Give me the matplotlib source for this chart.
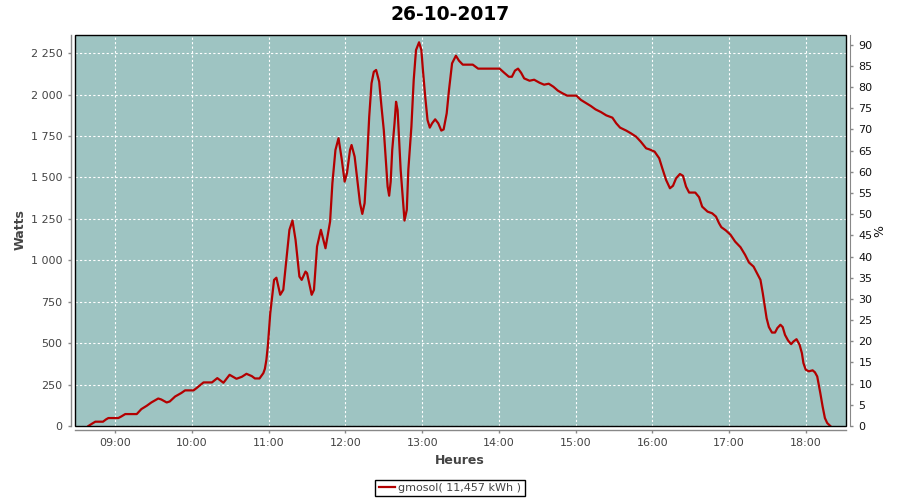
import matplotlib
matplotlib.use('Agg')
import matplotlib.pyplot as plt
from matplotlib.patches import Rectangle
from matplotlib.ticker import FuncFormatter, MultipleLocator

# donnees (heure decimale, puissance en W)
heures = [8.65, 8.70, 8.74, 8.84, 8.88, 8.91, 9.04, 9.08, 9.13, 9.28, 9.34, 9.41,
          9.47, 9.56, 9.60, 9.67, 9.71, 9.78, 9.86, 9.91, 10.02, 10.06, 10.15, 10.26,
          10.33, 10.41, 10.49, 10.58, 10.65, 10.71, 10.78, 10.82, 10.88, 10.93, 10.95,
          10.97, 10.99, 11.02, 11.04, 11.07, 11.10, 11.15, 11.19, 11.23, 11.27, 11.31,
          11.35, 11.40, 11.43, 11.48, 11.50, 11.56, 11.59, 11.63, 11.68, 11.74, 11.80,
          11.83, 11.87, 11.91, 11.95, 11.99, 12.02, 12.06, 12.08, 12.12, 12.15, 12.19,
          12.22, 12.25, 12.28, 12.31, 12.34, 12.37, 12.40, 12.44, 12.47, 12.50, 12.53,
          12.55, 12.57, 12.59, 12.61, 12.64, 12.66, 12.68, 12.70, 12.72, 12.75, 12.77,
          12.80, 12.82, 12.86, 12.89, 12.92, 12.96, 12.99, 13.01, 13.04, 13.07, 13.10,
          13.13, 13.17, 13.21, 13.25, 13.28, 13.32, 13.35, 13.39, 13.44, 13.48, 13.53,
          13.66, 13.73, 14.01, 14.07, 14.13, 14.17, 14.21, 14.25, 14.29, 14.33, 14.40,
          14.46, 14.53, 14.59, 14.65, 14.71, 14.77, 14.83, 14.89, 15.01, 15.07, 15.13,
          15.20, 15.26, 15.33, 15.40, 15.48, 15.53, 15.58, 15.66, 15.72, 15.79, 15.85,
          15.92, 15.96, 16.03, 16.09, 16.13, 16.18, 16.23, 16.27, 16.31, 16.36, 16.40,
          16.44, 16.48, 16.56, 16.61, 16.65, 16.72, 16.78, 16.83, 16.87, 16.90, 16.96,
          17.02, 17.08, 17.15, 17.21, 17.26, 17.32, 17.37, 17.41, 17.44, 17.46, 17.49,
          17.52, 17.56, 17.60, 17.63, 17.67, 17.70, 17.73, 17.77, 17.81, 17.84, 17.88,
          17.92, 17.95, 17.97, 18.00, 18.04, 18.09, 18.12, 18.15, 18.19, 18.22, 18.25,
          18.28, 18.32]
watts = [0, 15, 26, 26, 40, 48, 48, 58, 72, 72, 102, 122,
         142, 166, 160, 142, 148, 178, 199, 215, 215, 229, 263, 263,
         289, 261, 309, 285, 297, 315, 301, 287, 287, 319, 345,
         400, 490, 680, 762, 882, 895, 792, 822, 1003, 1184, 1240,
         1123, 902, 882, 932, 922, 792, 822, 1083, 1184, 1073, 1234,
         1465, 1666, 1737, 1616, 1475, 1526, 1666, 1696, 1626, 1505, 1345,
         1280, 1345, 1586, 1867, 2068, 2138, 2149, 2078, 1927, 1787, 1586,
         1445, 1390, 1475, 1666, 1827, 1957, 1907, 1726, 1546, 1365, 1240,
         1305, 1546, 1807, 2088, 2269, 2316, 2269, 2149, 1988, 1847, 1801,
         1827, 1851, 1827, 1783, 1790, 1887, 2028, 2189, 2235, 2205, 2181,
         2181, 2157, 2157, 2132, 2108, 2108, 2145, 2157, 2132, 2098, 2084,
         2090, 2072, 2060, 2066, 2048, 2024, 2008, 1994, 1994, 1968, 1951,
         1931, 1911, 1895, 1875, 1861, 1827, 1801, 1783, 1767, 1746, 1716,
         1676, 1670, 1656, 1616, 1556, 1485, 1435, 1450, 1495, 1521, 1510,
         1445, 1409, 1409, 1381, 1324, 1294, 1284, 1264, 1224, 1200, 1180,
         1154, 1113, 1079, 1033, 987, 962, 918, 882, 802, 742, 651,
         597, 564, 564, 591, 611, 597, 550, 516, 494, 510, 524,
         490, 440, 380, 340, 330, 336, 324, 299, 199, 118, 48,
         18, 0]

titre = '26-10-2017'
legende = 'gmosol( 11,457 kWh )'
heures_ticks = list(range(9, 19))
heures_labels = ['%02d:00' % h for h in heures_ticks]

fond = '#9ec4c2'
rouge = '#b30000'
gris = '#444444'
gris_axe = '#888888'

plt.rcParams['font.family'] = ['DejaVu Sans']

fig = plt.figure(figsize=(9, 5), dpi=100)
ax = fig.add_axes([75 / 900, 74 / 500, 771 / 900, 391 / 500])
ax.set_facecolor(fond)

ligne, = ax.plot(heures, watts, color=rouge, lw=1.6, label=legende)

ax.set_xlim(8.475, 18.525)
ax.set_ylim(0, 2360)
ax.set_xticks(heures_ticks)
ax.set_xticklabels(heures_labels)
ax.yaxis.set_major_locator(MultipleLocator(250))
ax.yaxis.set_major_formatter(FuncFormatter(lambda v, p: '{:,}'.format(int(v)).replace(',', ' ')))
ax.grid(True, color='white', lw=0.8, linestyle=(0, (2, 2)))

for s in ['left', 'bottom']:
    ax.spines[s].set_position(('outward', 3))
    ax.spines[s].set_color(gris_axe)
    ax.spines[s].set_linewidth(1)
ax.spines['top'].set_visible(False)
ax.spines['right'].set_visible(False)
ax.tick_params(axis='both', colors=gris_axe, labelcolor=gris, labelsize=8, length=2.5, width=1)

ax2 = ax.twinx()
ax2.set_ylim(0, 92.3)
ax2.yaxis.set_major_locator(MultipleLocator(5))
for s in ['left', 'bottom', 'top']:
    ax2.spines[s].set_visible(False)
ax2.spines['right'].set_position(('outward', 3))
ax2.spines['right'].set_color(gris_axe)
ax2.tick_params(axis='y', colors=gris_axe, labelcolor='#111111', labelsize=8, length=2.5, width=1)

# cadre noir du trace
ax2.add_patch(Rectangle((0, 0), 1, 1, transform=ax.transAxes, fill=False,
                        ec='black', lw=1, clip_on=False, zorder=10))

fig.text(0.5, 1 - 15 / 500, titre, ha='center', va='center', fontsize=13.5, fontweight='bold')
fig.text(20 / 900, 1 - 230 / 500, 'Watts', rotation=90, ha='center', va='center',
         fontsize=9, fontweight='bold', color=gris)
fig.text(880 / 900, 1 - 231 / 500, '%', rotation=90, ha='center', va='center',
         fontsize=9, color='#111111')
fig.text(460 / 900, 1 - 460 / 500, 'Heures', ha='center', va='center',
         fontsize=9, fontweight='bold', color=gris)

leg = fig.legend(handles=[ligne], loc='center', bbox_to_anchor=(0.5, 12 / 500),
                 fancybox=False, edgecolor='black', framealpha=1, fontsize=8,
                 handlelength=1.5, handletextpad=0.3, borderpad=0.3, borderaxespad=0)
leg.get_frame().set_linewidth(1)
leg.get_texts()[0].set_color(gris)

fig.savefig('out.png', dpi=100)
